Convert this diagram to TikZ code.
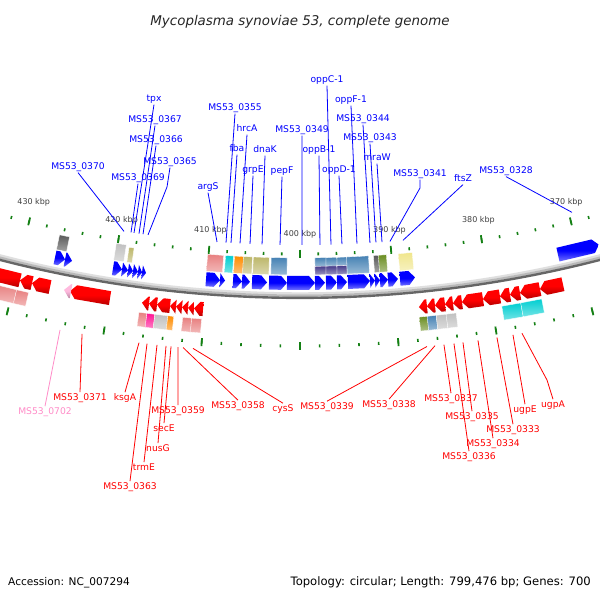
\documentclass[tikz,border=0pt]{standalone}
\usepackage{fontspec}
\setmainfont{DejaVu Sans}
\definecolor{lcoral}{RGB}{232,128,128}
\definecolor{dpink}{RGB}{255,20,147}
\definecolor{silverc}{RGB}{192,192,192}
\definecolor{dorange}{RGB}{255,140,0}
\definecolor{dturq}{RGB}{0,206,209}
\definecolor{olived}{RGB}{107,142,35}
\definecolor{steelb}{RGB}{70,130,180}
\definecolor{dslate}{RGB}{72,61,139}
\definecolor{dkhaki}{RGB}{189,183,107}
\definecolor{khakic}{RGB}{240,230,140}
\definecolor{dgrayc}{RGB}{90,90,90}
\definecolor{pinkl}{RGB}{255,140,200}
\definecolor{tickg}{RGB}{20,128,20}
% forward gene arrow (blue, inside backbone), tip at right
\newcommand\gFwd[3][blue]{%
 \pgfmathsetmacro\gaA{acos(((#2)-300)/1189)}%
 \pgfmathsetmacro\gaB{acos(((#3)-300)/1189)}%
 \pgfmathsetmacro\gaH{\gaB+min(6,(#3)-(#2))*57.29578/1189}%
 \path[top color=#1,bottom color=#1!55!white,middle color=#1] (\gaA:1182) -- (\gaH:1182) -- (\gaB:1189) -- (\gaH:1196) -- (\gaA:1196) -- cycle;}
% reverse gene arrow (red, outside backbone), tip at left
\newcommand\gRev[3][red]{%
 \pgfmathsetmacro\gaA{acos(((#2)-300)/1219)}%
 \pgfmathsetmacro\gaB{acos(((#3)-300)/1219)}%
 \pgfmathsetmacro\gaH{\gaA-min(6,(#3)-(#2))*57.29578/1219}%
 \path[top color=#1,bottom color=#1!72!black,middle color=#1] (\gaB:1212) -- (\gaH:1212) -- (\gaA:1219) -- (\gaH:1226) -- (\gaB:1226) -- cycle;}
% category box
\newcommand\gBox[5]{%
 \pgfmathsetmacro\gaA{acos(((#1)-300)/(0.5*(#3+#4)))}%
 \pgfmathsetmacro\gaB{acos(((#2)-300)/(0.5*(#3+#4)))}%
 \path[top color=#5,bottom color=#5!55!white,draw=white,line width=0.3pt] (\gaA:#3) -- (\gaB:#3) -- (\gaB:#4) -- (\gaA:#4) -- cycle;}
\begin{document}
\begin{tikzpicture}[x=1pt,y=-1pt,
  bl/.style={anchor=base,font=\fontsize{9.2}{11}\selectfont,text=blue,inner sep=1pt,text height=7pt,text depth=2pt},
  rl/.style={anchor=base,font=\fontsize{9.2}{11}\selectfont,text=red,inner sep=1pt,text height=7pt,text depth=2pt},
  bline/.style={blue,line width=0.8pt},
  rline/.style={red,line width=0.8pt},
  tickminor/.style={tickg,line width=1.6pt},
  tickmajor/.style={tickg,line width=1.8pt},
  ticklab/.style={font=\fontsize{8}{9}\selectfont,text=black!75,inner sep=0pt}]
\useasboundingbox (0,0) rectangle (600,600);
\fill[white] (0,0) rectangle (600,600);
\begin{scope}
\clip (0,0) rectangle (600,600);
\begin{scope}[shift={(300,-906)}]
% ticks
\foreach \k in {364,366,...,436}{
  \draw[tickminor] ({90+(\k-400)*0.4503}:1158.5) -- ({90+(\k-400)*0.4503}:1161.5);
  \draw[tickminor] ({90+(\k-400)*0.4503}:1250.5) -- ({90+(\k-400)*0.4503}:1253.5);}
\foreach \k in {370,380,...,430}{
  \draw[tickmajor] ({90+(\k-400)*0.4503}:1155.5) -- ({90+(\k-400)*0.4503}:1163.5);
  \draw[tickmajor] ({90+(\k-400)*0.4503}:1248) -- ({90+(\k-400)*0.4503}:1256);
  \node[ticklab] (t\k) at ({90+(\k-400)*0.4503}:1140) {\k\ kbp};}
% backbone
\draw[line width=2.4pt,gray!25] (73:1199.5) arc[start angle=73,end angle=107,radius=1199.5];
\draw[line width=2.4pt,gray!55] (73:1201.7) arc[start angle=73,end angle=107,radius=1201.7];
\draw[line width=2.4pt,gray!80!black] (73:1203.9) arc[start angle=73,end angle=107,radius=1203.9];
% forward genes
\gFwd{55}{65} \gFwd{65}{72}
\gFwd{113}{122} \gFwd{122}{128} \gFwd{128}{133} \gFwd{133}{138} \gFwd{138}{142} \gFwd{142}{146}
\gFwd{206}{220} \gFwd{220}{225} \gFwd{233}{242} \gFwd{242}{250} \gFwd{252}{267} \gFwd{269}{287}
\gFwd{287}{315} \gFwd{315}{325} \gFwd{326}{337} \gFwd{337}{347} \gFwd{348}{370} \gFwd{370}{375}
\gFwd{375}{380} \gFwd{380}{388} \gFwd{388}{398} \gFwd{400}{415}
\gFwd{558}{599}
% reverse genes
\gRev{-8}{20} \gRev{20}{32} \gRev{32}{50}
\gRev{70}{110} \gRev[pinkl!60!white]{64}{71}
\gRev{142}{149} \gRev{149}{157} \gRev{157}{170} \gRev{170}{176} \gRev{176}{182} \gRev{182}{188} \gRev{188}{194} \gRev{194}{203}
\gRev{419}{427} \gRev{427}{435} \gRev{435}{445} \gRev{445}{453} \gRev{453}{462} \gRev{462}{483}
\gRev{483}{500} \gRev{500}{510} \gRev{510}{520} \gRev{520}{540} \gRev{540}{563}
% forward category boxes
\gBox{58}{68}{1166}{1181}{dgrayc}
\gBox{115}{125}{1164}{1181}{silverc}
\gBox{128}{133}{1166}{1181}{dkhaki}
\gBox{207}{223}{1164}{1181}{lcoral}
\gBox{225}{233}{1164}{1181}{dturq}
\gBox{234}{243}{1164}{1181}{dorange}
\gBox{243}{252}{1164}{1181}{dkhaki}
\gBox{253}{269}{1164}{1181}{dkhaki}
\gBox{271}{287}{1164}{1181}{steelb}
\gBox{315}{326}{1164}{1172.5}{steelb} \gBox{326}{337}{1164}{1172.5}{steelb} \gBox{337}{347}{1164}{1172.5}{steelb}
\gBox{315}{326}{1172.5}{1181}{dslate} \gBox{326}{337}{1172.5}{1181}{dslate} \gBox{337}{347}{1172.5}{1181}{dslate}
\gBox{347}{369}{1164}{1181}{steelb}
\gBox{374}{379}{1164}{1181}{dgrayc}
\gBox{379}{387}{1164}{1181}{olived}
\gBox{399}{413}{1164}{1181}{khakic}
% reverse category boxes
\gBox{-5}{15}{1229}{1243}{lcoral} \gBox{15}{27}{1229}{1243}{lcoral}
\gBox{138}{146}{1229}{1243}{lcoral} \gBox{146}{154}{1229}{1243}{dpink}
\gBox{154}{167}{1229}{1243}{silverc} \gBox{167}{173}{1229}{1243}{dorange}
\gBox{182}{191}{1229}{1243}{lcoral} \gBox{191}{201}{1229}{1243}{lcoral}
\gBox{420}{428}{1229}{1243}{olived} \gBox{428}{437}{1229}{1243}{steelb}
\gBox{437}{447}{1229}{1243}{silverc} \gBox{447}{457}{1229}{1243}{silverc}
\gBox{503}{522}{1229}{1243}{dturq} \gBox{522}{543}{1229}{1243}{dturq}
% label anchor points on features
\foreach \n/\x in {370/124,369/131,tpx/134,367/139,366/143,365/148,argS/217,355/226,fba/231,hrcA/240,grpE/250,dnaK/262,pepF/280,349/302,oppB/320,oppC/331,oppD/342,oppF/357,344/370,343/376,mraW/382,341/390,ftsZ/403,328/572}
  \coordinate (f\n) at ({acos((\x-300)/1151)}:1151);
\foreach \n/\x in {702/60,371/82,ksgA/139,363/147,trmE/157,nusG/166,secE/171,359/178,358/183,cysS/193,339/427,338/435,337/444,336/454,335/463,334/478,333/497,ugpE/513,ugpA/522}
  \coordinate (g\n) at ({acos((\x-300)/1259)}:1259);
\end{scope}
% kinks
\coordinate (k365) at (167,187);
\coordinate (k344) at (364,142);
\coordinate (k341) at (420,188);
\coordinate (kugpA) at (547,380);
% blue labels
\node[bl] (l370) at (78,169.4) {MS53\_0370};
\node[bl] (l369) at (138,180.4) {MS53\_0369};
\node[bl] (ltpx) at (154,101.4) {tpx};
\node[bl] (l367) at (155,122.4) {MS53\_0367};
\node[bl] (l366) at (156,142.4) {MS53\_0366};
\node[bl] (l365) at (170,164.4) {MS53\_0365};
\node[bl] (largS) at (208,189.4) {argS};
\node[bl] (l355) at (235,110.4) {MS53\_0355};
\node[bl] (lfba) at (237,151.4) {fba};
\node[bl] (lhrcA) at (247,131.4) {hrcA};
\node[bl] (lgrpE) at (253,172.4) {grpE};
\node[bl] (ldnaK) at (265,152.4) {dnaK};
\node[bl] (lpepF) at (282,173.4) {pepF};
\node[bl] (l349) at (302,132.4) {MS53\_0349};
\node[bl] (loppB) at (319,152.4) {oppB-1};
\node[bl] (loppC) at (327,82.4) {oppC-1};
\node[bl] (loppD) at (339,172.4) {oppD-1};
\node[bl] (loppF) at (351,102.4) {oppF-1};
\node[bl] (l344) at (363,121.4) {MS53\_0344};
\node[bl] (l343) at (370,140.4) {MS53\_0343};
\node[bl] (lmraW) at (377,160.4) {mraW};
\node[bl] (l341) at (420,176.4) {MS53\_0341};
\node[bl] (lftsZ) at (463,181.4) {ftsZ};
\node[bl] (l328) at (506,173.4) {MS53\_0328};
\foreach \n in {370,369,tpx,367,366,argS,355,fba,hrcA,grpE,dnaK,pepF,349,oppB,oppC,oppD,oppF,343,mraW,ftsZ,328}
  \draw[bline] (f\n) -- (l\n.south);
\draw[bline] (f365) -- (k365) -- (l365.south);
\draw[bline] (f344) -- (k344) -- (l344.south);
\draw[bline] (f341) -- (k341) -- (l341.south);
% red labels
\node[rl,text=pinkl] (l702) at (45,414.4) {MS53\_0702};
\node[rl] (l371) at (80,400.4) {MS53\_0371};
\node[rl] (lksgA) at (125,400.4) {ksgA};
\node[rl] (l363) at (130,489.4) {MS53\_0363};
\node[rl] (ltrmE) at (144,470.4) {trmE};
\node[rl] (lnusG) at (158,451.4) {nusG};
\node[rl] (lsecE) at (164,431.4) {secE};
\node[rl] (l359) at (178,413.4) {MS53\_0359};
\node[rl] (l358) at (238,408.4) {MS53\_0358};
\node[rl] (lcysS) at (283,411.4) {cysS};
\node[rl] (l339) at (327,409.4) {MS53\_0339};
\node[rl] (l338) at (389,407.4) {MS53\_0338};
\node[rl] (l337) at (451,401.4) {MS53\_0337};
\node[rl] (l336) at (469,459.4) {MS53\_0336};
\node[rl] (l335) at (472,419.4) {MS53\_0335};
\node[rl] (l334) at (493,446.4) {MS53\_0334};
\node[rl] (l333) at (513,432.4) {MS53\_0333};
\node[rl] (lugpE) at (525,412.4) {ugpE};
\node[rl] (lugpA) at (553,407.4) {ugpA};
\draw[pinkl,line width=0.8pt] (g702) -- (l702.north);
\foreach \n in {371,ksgA,363,trmE,nusG,secE,359,358,cysS,339,338,337,336,335,334,333,ugpE}
  \draw[rline] (g\n) -- (l\n.north);
\draw[rline] (gugpA) -- (kugpA) -- (lugpA.north);
\end{scope}
% title and footer
\node[anchor=base,font=\fontsize{13.4}{16}\selectfont\itshape,text=black!85,inner sep=0pt] (title) at (300,25) {Mycoplasma synoviae 53, complete genome};
\node[anchor=base west,font=\fontsize{10.6}{13}\selectfont,inner sep=0pt] (acc) at (8,585) {Accession: NC\_007294};
\node[anchor=base east,font=\fontsize{11.6}{13}\selectfont,inner sep=0pt] (topo) at (591,585) {Topology: circular; Length: 799,476 bp; Genes: 700};
\end{tikzpicture}
\end{document}
